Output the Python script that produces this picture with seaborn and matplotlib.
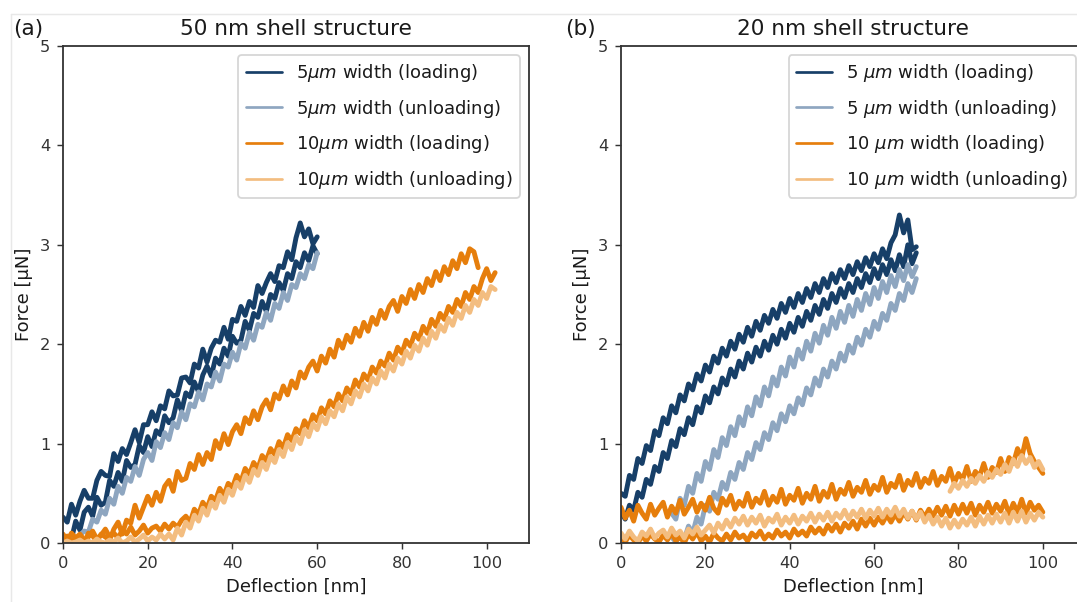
import numpy as np
import pandas as pd
import matplotlib
matplotlib.use("Agg")
import matplotlib.pyplot as plt
from matplotlib.lines import Line2D
import seaborn as sns

# ---------------- data ----------------
# Panel (a): 50 nm shell structure
XA5 = [0, 1, 2, 3, 4, 5, 6, 7, 8, 9, 10, 11, 12, 13, 14, 15, 16, 17, 18, 19,
       20, 21, 22, 23, 24, 25, 26, 27, 28, 29, 30, 31, 32, 33, 34, 35, 36, 37, 38, 39,
       40, 41, 42, 43, 44, 45, 46, 47, 48, 49, 50, 51, 52, 53, 54, 55, 56, 57, 58, 59, 60]
A5_LOAD_1 = [0.26, 0.21, 0.39, 0.28, 0.42, 0.53, 0.45, 0.45, 0.63, 0.72,
             0.68, 0.67, 0.90, 0.82, 0.95, 0.89, 1.01, 1.14, 1.01, 1.19,
             1.19, 1.32, 1.23, 1.38, 1.35, 1.53, 1.48, 1.49, 1.66, 1.67,
             1.61, 1.80, 1.76, 1.95, 1.82, 1.96, 2.04, 2.02, 2.17, 2.05,
             2.25, 2.23, 2.38, 2.29, 2.43, 2.37, 2.59, 2.51, 2.62, 2.71,
             2.63, 2.79, 2.77, 2.93, 2.85, 3.07, 3.22, 3.08, 3.16, 3.01,
             3.08]
A5_LOAD_2 = [0.08, 0.02, 0.04, 0.22, 0.13, 0.31, 0.36, 0.27, 0.46, 0.38,
             0.41, 0.63, 0.57, 0.71, 0.62, 0.83, 0.76, 0.79, 0.98, 0.91,
             1.07, 0.97, 1.13, 1.09, 1.28, 1.21, 1.26, 1.44, 1.33, 1.51,
             1.47, 1.62, 1.52, 1.69, 1.78, 1.68, 1.86, 1.80, 1.96, 1.88,
             2.08, 2.01, 2.04, 2.23, 2.14, 2.31, 2.27, 2.43, 2.33, 2.50,
             2.46, 2.62, 2.54, 2.71, 2.66, 2.83, 2.77, 2.92, 2.84, 2.99,
             2.91]
A5_UNLOAD = [0.02, 0.00, 0.05, 0.01, 0.08, 0.12, 0.11, 0.24, 0.21, 0.33,
             0.29, 0.45, 0.39, 0.57, 0.50, 0.66, 0.62, 0.77, 0.68, 0.84,
             0.91, 0.83, 1.02, 0.96, 1.11, 1.04, 1.21, 1.16, 1.32, 1.24,
             1.40, 1.37, 1.52, 1.44, 1.60, 1.57, 1.72, 1.63, 1.80, 1.77,
             1.92, 1.84, 2.01, 1.96, 2.12, 2.04, 2.20, 2.17, 2.32, 2.24,
             2.41, 2.36, 2.52, 2.44, 2.60, 2.57, 2.71, 2.66, 2.80, 2.76,
             2.92]

XA10_A = [0, 1, 2, 3, 4, 5, 6, 7, 8, 9, 10, 11, 12, 13, 14, 15, 16, 17, 18, 19,
          20, 21, 22, 23, 24, 25, 26, 27, 28, 29, 30, 31, 32, 33, 34, 35, 36, 37, 38, 39,
          40, 41, 42, 43, 44, 45, 46, 47, 48, 49, 50, 51, 52, 53, 54, 55, 56, 57, 58, 59,
          60, 61, 62, 63, 64, 65, 66, 67, 68, 69, 70, 71, 72, 73, 74, 75, 76, 77, 78, 79,
          80, 81, 82, 83, 84, 85, 86, 87, 88, 89, 90, 91, 92, 93, 94, 95, 96, 97, 98]
XA10_B = XA10_A + [99, 100, 101, 102]
A10_LOAD_1 = [0.09, 0.02, 0.10, 0.05, 0.03, 0.00, 0.10, 0.07, 0.02, 0.09,
              0.06, 0.03, 0.14, 0.21, 0.09, 0.23, 0.20, 0.38, 0.25, 0.36,
              0.47, 0.38, 0.51, 0.42, 0.57, 0.63, 0.52, 0.72, 0.63, 0.65,
              0.80, 0.74, 0.89, 0.79, 0.91, 0.84, 1.03, 0.95, 1.10, 0.99,
              1.12, 1.19, 1.10, 1.26, 1.20, 1.33, 1.24, 1.37, 1.44, 1.34,
              1.50, 1.45, 1.58, 1.49, 1.63, 1.56, 1.72, 1.66, 1.77, 1.83,
              1.73, 1.88, 1.81, 1.95, 1.87, 2.04, 1.96, 2.09, 2.02, 2.16,
              2.08, 2.22, 2.13, 2.27, 2.20, 2.34, 2.26, 2.38, 2.44, 2.33,
              2.48, 2.41, 2.55, 2.46, 2.60, 2.52, 2.66, 2.59, 2.73, 2.64,
              2.78, 2.70, 2.84, 2.76, 2.91, 2.82, 2.96, 2.93, 2.77]
A10_LOAD_2 = [0.03, 0.07, 0.01, 0.05, 0.09, 0.03, 0.06, 0.12, 0.04, 0.08,
              0.14, 0.06, 0.10, 0.05, 0.13, 0.09, 0.16, 0.08, 0.12, 0.18,
              0.10, 0.15, 0.17, 0.12, 0.19, 0.14, 0.20, 0.16, 0.23, 0.27,
              0.21, 0.34, 0.29, 0.41, 0.35, 0.47, 0.43, 0.55, 0.48, 0.60,
              0.56, 0.68, 0.62, 0.75, 0.69, 0.81, 0.75, 0.88, 0.83, 0.95,
              0.89, 1.02, 0.96, 1.09, 1.03, 1.15, 1.10, 1.23, 1.16, 1.29,
              1.23, 1.36, 1.30, 1.43, 1.37, 1.50, 1.43, 1.56, 1.50, 1.64,
              1.57, 1.70, 1.64, 1.77, 1.71, 1.83, 1.78, 1.91, 1.84, 1.97,
              1.91, 2.04, 1.98, 2.11, 2.05, 2.18, 2.11, 2.25, 2.18, 2.31,
              2.25, 2.38, 2.32, 2.45, 2.38, 2.52, 2.45, 2.58, 2.52, 2.66,
              2.76, 2.64, 2.72]
A10_UNLOAD = [0.00, 0.02, 0.00, 0.01, 0.03, 0.00, 0.02, 0.00, 0.04, 0.01,
              0.00, 0.03, 0.01, 0.05, 0.00, 0.02, 0.06, 0.01, 0.04, 0.08,
              0.02, 0.06, 0.03, 0.09, 0.04, 0.09, 0.03, 0.15, 0.08, 0.21,
              0.15, 0.28, 0.22, 0.35, 0.28, 0.41, 0.35, 0.48, 0.41, 0.54,
              0.48, 0.61, 0.55, 0.68, 0.61, 0.74, 0.68, 0.81, 0.74, 0.87,
              0.81, 0.94, 0.87, 1.01, 0.94, 1.07, 1.00, 1.14, 1.07, 1.20,
              1.14, 1.27, 1.20, 1.33, 1.27, 1.40, 1.33, 1.47, 1.40, 1.53,
              1.47, 1.60, 1.53, 1.66, 1.60, 1.73, 1.66, 1.80, 1.73, 1.86,
              1.80, 1.93, 1.86, 1.99, 1.93, 2.06, 1.99, 2.13, 2.06, 2.19,
              2.13, 2.26, 2.19, 2.32, 2.26, 2.39, 2.32, 2.45, 2.39, 2.52,
              2.46, 2.58, 2.55]

# Panel (b): 20 nm shell structure
XB5 = [0, 1, 2, 3, 4, 5, 6, 7, 8, 9, 10, 11, 12, 13, 14, 15, 16, 17, 18, 19,
       20, 21, 22, 23, 24, 25, 26, 27, 28, 29, 30, 31, 32, 33, 34, 35, 36, 37, 38, 39,
       40, 41, 42, 43, 44, 45, 46, 47, 48, 49, 50, 51, 52, 53, 54, 55, 56, 57, 58, 59,
       60, 61, 62, 63, 64, 65, 66, 67, 68, 69, 70]
B5_LOAD_1 = [0.50, 0.47, 0.68, 0.64, 0.85, 0.80, 0.98, 0.93, 1.13, 1.08,
             1.26, 1.20, 1.38, 1.31, 1.49, 1.43, 1.60, 1.54, 1.70, 1.63,
             1.79, 1.72, 1.88, 1.81, 1.96, 1.88, 2.03, 1.95, 2.10, 2.02,
             2.17, 2.08, 2.23, 2.14, 2.29, 2.21, 2.35, 2.26, 2.41, 2.32,
             2.46, 2.37, 2.51, 2.42, 2.56, 2.47, 2.61, 2.52, 2.66, 2.57,
             2.71, 2.62, 2.75, 2.66, 2.79, 2.70, 2.83, 2.74, 2.87, 2.78,
             2.91, 2.82, 2.96, 2.86, 3.02, 3.10, 3.30, 3.12, 3.25, 2.95,
             2.98]
B5_LOAD_2 = [0.31, 0.24, 0.38, 0.33, 0.51, 0.46, 0.64, 0.59, 0.77, 0.72,
             0.91, 0.85, 1.03, 0.97, 1.15, 1.09, 1.26, 1.19, 1.37, 1.31,
             1.48, 1.41, 1.57, 1.50, 1.66, 1.59, 1.75, 1.67, 1.83, 1.75,
             1.91, 1.82, 1.97, 1.88, 2.03, 1.94, 2.09, 2.00, 2.15, 2.06,
             2.21, 2.12, 2.27, 2.18, 2.33, 2.24, 2.39, 2.30, 2.45, 2.36,
             2.51, 2.42, 2.56, 2.47, 2.61, 2.52, 2.66, 2.57, 2.71, 2.62,
             2.76, 2.66, 2.80, 2.70, 2.85, 2.74, 2.90, 2.78, 3.00, 2.81,
             2.92]
XB5_U = [12, 13, 14, 15, 16, 17, 18, 19, 20, 21, 22, 23, 24, 25, 26, 27, 28, 29, 30, 31,
         32, 33, 34, 35, 36, 37, 38, 39, 40, 41, 42, 43, 44, 45, 46, 47, 48, 49, 50, 51,
         52, 53, 54, 55, 56, 57, 58, 59, 60, 61, 62, 63, 64, 65, 66, 67, 68, 69, 70]
B5_UNLOAD_1 = [0.30, 0.24, 0.45, 0.38, 0.57, 0.50, 0.70, 0.62, 0.82, 0.74,
               0.94, 0.86, 1.06, 0.98, 1.17, 1.08, 1.27, 1.18, 1.37, 1.28,
               1.47, 1.38, 1.57, 1.48, 1.67, 1.58, 1.77, 1.68, 1.87, 1.77,
               1.95, 1.85, 2.03, 1.93, 2.11, 2.01, 2.19, 2.09, 2.27, 2.16,
               2.33, 2.22, 2.39, 2.28, 2.45, 2.34, 2.51, 2.40, 2.57, 2.46,
               2.63, 2.52, 2.69, 2.58, 2.75, 2.64, 2.80, 2.68, 2.78]
B5_UNLOAD_2 = [0.06, 0.01, 0.09, 0.04, 0.17, 0.10, 0.26, 0.19, 0.38, 0.32,
               0.51, 0.44, 0.61, 0.54, 0.71, 0.64, 0.81, 0.74, 0.91, 0.84,
               1.01, 0.94, 1.11, 1.04, 1.21, 1.13, 1.30, 1.22, 1.38, 1.30,
               1.46, 1.39, 1.56, 1.49, 1.66, 1.58, 1.75, 1.67, 1.83, 1.75,
               1.91, 1.83, 1.99, 1.91, 2.07, 1.99, 2.15, 2.07, 2.23, 2.15,
               2.31, 2.24, 2.41, 2.34, 2.51, 2.44, 2.61, 2.52, 2.66]

XB10 = [0, 1, 2, 3, 4, 5, 6, 7, 8, 9, 10, 11, 12, 13, 14, 15, 16, 17, 18, 19,
        20, 21, 22, 23, 24, 25, 26, 27, 28, 29, 30, 31, 32, 33, 34, 35, 36, 37, 38, 39,
        40, 41, 42, 43, 44, 45, 46, 47, 48, 49, 50, 51, 52, 53, 54, 55, 56, 57, 58, 59,
        60, 61, 62, 63, 64, 65, 66, 67, 68, 69, 70, 71, 72, 73, 74, 75, 76, 77, 78, 79,
        80, 81, 82, 83, 84, 85, 86, 87, 88, 89, 90, 91, 92, 93, 94, 95, 96, 97, 98, 99, 100]
B10_LOAD_1 = [0.36, 0.25, 0.33, 0.22, 0.38, 0.30, 0.24, 0.39, 0.28, 0.35,
              0.41, 0.26, 0.37, 0.30, 0.43, 0.29, 0.36, 0.44, 0.31, 0.40,
              0.33, 0.46, 0.35, 0.30, 0.45, 0.38, 0.48, 0.34, 0.42, 0.37,
              0.50, 0.36, 0.45, 0.40, 0.52, 0.38, 0.47, 0.41, 0.54, 0.39,
              0.48, 0.43, 0.55, 0.40, 0.50, 0.44, 0.57, 0.42, 0.52, 0.46,
              0.59, 0.44, 0.54, 0.49, 0.61, 0.47, 0.56, 0.51, 0.63, 0.49,
              0.58, 0.53, 0.66, 0.51, 0.60, 0.56, 0.68, 0.53, 0.63, 0.58,
              0.70, 0.56, 0.65, 0.60, 0.72, 0.58, 0.67, 0.62, 0.75, 0.60,
              0.70, 0.64, 0.77, 0.62, 0.72, 0.67, 0.80, 0.66, 0.76, 0.71,
              0.85, 0.72, 0.86, 0.80, 0.95, 0.86, 1.05, 0.90, 0.82, 0.76,
              0.70]
B10_LOAD_2 = [0.06, 0.01, 0.08, 0.03, 0.00, 0.07, 0.02, 0.09, 0.04, 0.01,
              0.08, 0.03, 0.10, 0.02, 0.06, 0.00, 0.09, 0.04, 0.11, 0.02,
              0.07, 0.01, 0.10, 0.05, 0.02, 0.09, 0.03, 0.11, 0.05, 0.08,
              0.02, 0.10, 0.06, 0.12, 0.04, 0.09, 0.05, 0.13, 0.07, 0.11,
              0.05, 0.14, 0.08, 0.12, 0.07, 0.16, 0.10, 0.15, 0.09, 0.18,
              0.12, 0.19, 0.11, 0.20, 0.15, 0.22, 0.14, 0.24, 0.17, 0.25,
              0.18, 0.26, 0.20, 0.28, 0.21, 0.29, 0.22, 0.31, 0.24, 0.32,
              0.23, 0.33, 0.26, 0.34, 0.27, 0.36, 0.28, 0.37, 0.27, 0.38,
              0.29, 0.39, 0.30, 0.40, 0.28, 0.38, 0.31, 0.41, 0.30, 0.39,
              0.32, 0.42, 0.29, 0.40, 0.31, 0.44, 0.30, 0.41, 0.33, 0.38,
              0.31]
B10_UNLOAD_1 = [0.10, 0.04, 0.12, 0.06, 0.02, 0.11, 0.07, 0.14, 0.05, 0.10,
                0.13, 0.06, 0.15, 0.08, 0.12, 0.05, 0.14, 0.09, 0.16, 0.08,
                0.13, 0.18, 0.10, 0.20, 0.14, 0.23, 0.16, 0.25, 0.19, 0.27,
                0.18, 0.26, 0.20, 0.28, 0.17, 0.25, 0.21, 0.29, 0.18, 0.26,
                0.20, 0.28, 0.19, 0.27, 0.22, 0.30, 0.21, 0.29, 0.23, 0.31,
                0.22, 0.30, 0.25, 0.33, 0.24, 0.32, 0.26, 0.34, 0.25, 0.33,
                0.27, 0.35, 0.26, 0.34, 0.28, 0.36, 0.27, 0.34, 0.25, 0.32,
                0.24, 0.31, 0.21, 0.28, 0.19, 0.26, 0.17, 0.25, 0.15, 0.23,
                0.16, 0.24, 0.18, 0.26, 0.17, 0.27, 0.19, 0.28, 0.20, 0.29,
                0.21, 0.30, 0.20, 0.31, 0.22, 0.32, 0.21, 0.30, 0.23, 0.31,
                0.26]
XB10_U2 = [78, 79, 80, 81, 82, 83, 84, 85, 86, 87, 88, 89, 90, 91, 92, 93, 94, 95, 96, 97,
           98, 99, 100]
B10_UNLOAD_2 = [0.52, 0.60, 0.55, 0.63, 0.57, 0.65, 0.60, 0.68, 0.62, 0.71,
                0.66, 0.74, 0.69, 0.79, 0.72, 0.84, 0.77, 0.88, 0.80, 0.86,
                0.76, 0.82, 0.74]

LABELS_A = ["5$\\mu m$ width (loading)", "5$\\mu m$ width (unloading)",
            "10$\\mu m$ width (loading)", "10$\\mu m$ width (unloading)"]
LABELS_B = ["5 $\\mu m$ width (loading)", "5 $\\mu m$ width (unloading)",
            "10 $\\mu m$ width (loading)", "10 $\\mu m$ width (unloading)"]
COLORS = ["#173f68", "#8ea6c0", "#e67e0c", "#f3bd80"]

TITLES = ["50 nm shell structure", "20 nm shell structure"]
PANEL_TAGS = ["(a)", "(b)"]
XTICKS = [0, 20, 40, 60, 80, 100]
YTICKS = [0, 1, 2, 3, 4, 5]


def build(runs):
    frames = []
    for i, (x, y, s) in enumerate(runs):
        frames.append(pd.DataFrame({"Deflection": x, "Force": y, "series": s, "run": i}))
    return pd.concat(frames, ignore_index=True)


runs_a = [(XA5, A5_LOAD_1, 0), (XA5, A5_LOAD_2, 0), (XA5, A5_UNLOAD, 1),
          (XA10_A, A10_LOAD_1, 2), (XA10_B, A10_LOAD_2, 2), (XA10_B, A10_UNLOAD, 3)]
runs_b = [(XB5, B5_LOAD_1, 0), (XB5, B5_LOAD_2, 0),
          (XB5_U, B5_UNLOAD_1, 1), (XB5_U, B5_UNLOAD_2, 1),
          (XB10, B10_LOAD_1, 2), (XB10, B10_LOAD_2, 2),
          (XB10, B10_UNLOAD_1, 3), (XB10_U2, B10_UNLOAD_2, 3)]

# ---------------- style ----------------
sns.set_style("ticks")
plt.rcParams["font.family"] = ["DejaVu Sans"]
plt.rcParams.update({
    "xtick.labelsize": 9, "ytick.labelsize": 9,
    "axes.labelsize": 10, "axes.titlesize": 12,
    "legend.fontsize": 10,
    "xtick.major.size": 3.5, "ytick.major.size": 3.5,
    "axes.edgecolor": "#333333", "axes.linewidth": 1.0,
    "xtick.color": "#333333", "ytick.color": "#333333",
    "text.color": "#1a1a1a", "axes.labelcolor": "#1a1a1a",
})

DPI = 130
fig = plt.figure(figsize=(1077 / DPI, 602 / DPI), dpi=DPI)
positions = [[63 / 1077, 59 / 602, 466 / 1077, 497 / 602],
             [621 / 1077, 59 / 602, 464 / 1077, 497 / 602]]

for k, (runs, labels) in enumerate([(runs_a, LABELS_A), (runs_b, LABELS_B)]):
    ax = fig.add_axes(positions[k])
    df = build(runs)
    df["series"] = df["series"].map(lambda i: labels[i])
    sns.lineplot(data=df, x="Deflection", y="Force", hue="series", units="run",
                 estimator=None, sort=False, palette=dict(zip(labels, COLORS)),
                 hue_order=labels, linewidth=2.7, legend=False, ax=ax)
    ax.set_xlim(0, 110)
    ax.set_ylim(0, 5)
    ax.set_xticks(XTICKS)
    ax.set_yticks(YTICKS)
    ax.set_xlabel("Deflection [nm]")
    ax.set_ylabel("Force [\u03bcN]")
    ax.set_title(TITLES[k])
    handles = [Line2D([], [], color=c, lw=1.5) for c in COLORS]
    ax.legend(handles, labels, loc="upper right", frameon=True, labelspacing=0.75,
              edgecolor="#cccccc", fancybox=True)

fig.text(13 / 1077, 1 - 29.5 / 602, PANEL_TAGS[0], fontsize=12, va="center", ha="left")
fig.text(565 / 1077, 1 - 29.5 / 602, PANEL_TAGS[1], fontsize=12, va="center", ha="left")

# faint frame of the original figure
fig.add_artist(Line2D([11 / 1077, 1], [1 - 14 / 602, 1 - 14 / 602], color="#e8e8e8", lw=0.8))
fig.add_artist(Line2D([11 / 1077, 11 / 1077], [0, 1 - 14 / 602], color="#e8e8e8", lw=0.8))

fig.savefig("out.png", dpi=DPI)
